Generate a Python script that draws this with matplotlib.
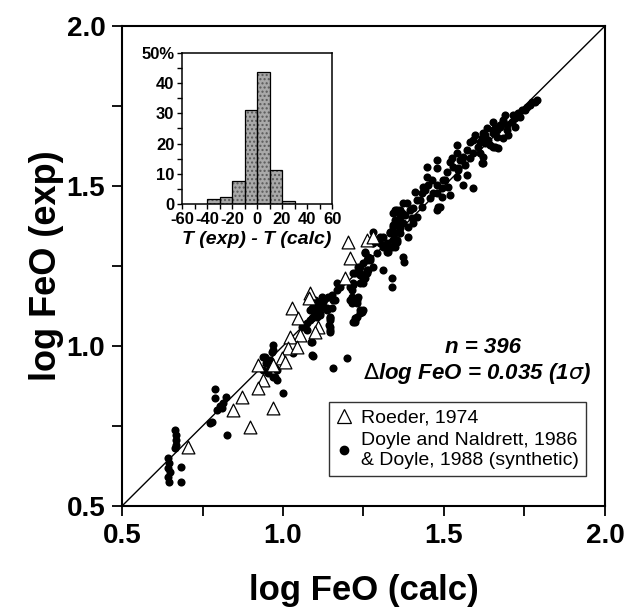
import matplotlib
matplotlib.use("Agg")
import matplotlib.pyplot as plt
from matplotlib.lines import Line2D
from matplotlib.ticker import MultipleLocator

plt.rcParams['font.family'] = ['Liberation Sans', 'DejaVu Sans']

# Roeder, 1974 (open triangles)
roeder_x = [1.202, 1.261, 1.280, 1.208, 1.193, 1.084, 1.081, 1.028, 1.047, 1.109,
            1.099, 1.053, 1.022, 1.016, 1.043, 0.997, 1.006, 0.922, 0.969, 0.938,
            0.922, 0.873, 0.845, 0.969, 0.898, 0.705]
roeder_y = [1.325, 1.331, 1.341, 1.275, 1.213, 1.166, 1.150, 1.119, 1.088, 1.059,
            1.044, 1.034, 1.028, 0.994, 0.997, 0.963, 0.950, 0.941, 0.941, 0.894,
            0.869, 0.841, 0.800, 0.806, 0.747, 0.684]

# Doyle and Naldrett, 1986 & Doyle, 1988 (filled dots)
doyle_x = [0.665, 0.668, 0.668, 0.668, 0.665, 0.643, 0.646, 0.643, 0.649, 0.643,
           0.646, 0.683, 0.683, 0.773, 0.826, 0.789, 0.789, 0.795, 0.804, 0.814,
           0.823, 0.811, 0.780,
           0.969, 0.969, 0.944, 0.947, 0.938, 0.953, 0.969, 0.981, 0.975, 0.960,
           1.000, 1.031, 1.087, 1.093, 1.155, 1.199, 0.966, 0.938, 0.950, 0.981,
           0.975, 0.960, 1.090,
           1.146, 1.143, 1.146, 1.217, 1.239, 1.224, 1.248, 1.208, 1.230, 1.214,
           1.217, 1.248, 1.261, 1.239, 1.177, 1.152, 1.155, 1.168, 1.115, 1.106,
           1.093, 1.075, 1.059, 1.137, 1.099, 1.124, 1.115, 1.084, 1.140, 1.090,
           1.109, 1.121, 1.137, 1.106, 1.090, 1.146, 1.146, 1.146, 1.214, 1.214,
           1.230, 1.230, 1.245, 1.224, 1.168, 1.208, 1.161, 1.152, 1.146, 1.121,
           1.109, 1.093, 1.099, 1.115, 1.084, 1.075, 1.090, 1.233, 1.239, 1.224,
           1.280, 1.292, 1.311, 1.323, 1.342, 1.342, 1.348, 1.342, 1.332, 1.270,
           1.248, 1.261, 1.239, 1.255, 1.301, 1.339, 1.323, 1.255, 1.261, 1.264,
           1.239, 1.224, 1.248, 1.311, 1.339, 1.339, 1.348, 1.348, 1.388, 1.376,
           1.373, 1.332, 1.326, 1.354, 1.348, 1.332, 1.363, 1.342, 1.357, 1.363,
           1.348, 1.363, 1.379, 1.401, 1.404, 1.394, 1.385, 1.416, 1.425, 1.410,
           1.432, 1.441, 1.450, 1.463, 1.447, 1.447, 1.478, 1.478, 1.280, 1.270,
           1.292, 1.264, 1.233, 1.255, 1.239, 1.217, 1.217, 1.311, 1.301, 1.280,
           1.373, 1.388, 1.370, 1.354, 1.416, 1.404, 1.432, 1.373, 1.363, 1.354,
           1.348,
           1.478, 1.494, 1.488, 1.478, 1.519, 1.494, 1.512, 1.503, 1.509, 1.540,
           1.559, 1.590, 1.571, 1.543, 1.528, 1.519, 1.525, 1.550, 1.565, 1.540,
           1.540, 1.559, 1.571, 1.581, 1.590, 1.612, 1.621, 1.606, 1.590, 1.596,
           1.627, 1.618, 1.621, 1.634, 1.652, 1.665, 1.674, 1.696, 1.683, 1.689,
           1.720, 1.730, 1.752, 1.767, 1.783, 1.643, 1.658, 1.668, 1.652, 1.658,
           1.581, 1.612, 1.637, 1.556, 1.543, 1.497, 1.478, 1.466, 1.435, 1.457,
           1.481, 1.789, 1.773, 1.758, 1.742, 1.736, 1.714, 1.711, 1.720, 1.683,
           1.674, 1.696, 1.699, 1.683, 1.652, 1.665, 1.627, 1.637, 1.618, 1.652,
           1.621, 1.618]
doyle_y = [0.738, 0.722, 0.706, 0.691, 0.681, 0.650, 0.634, 0.619, 0.606, 0.591,
           0.575, 0.622, 0.575, 0.759, 0.722, 0.866, 0.838, 0.800, 0.813, 0.822,
           0.841, 0.806, 0.763,
           1.003, 0.988, 0.966, 0.947, 0.925, 0.916, 0.903, 0.894, 0.931, 0.956,
           0.853, 0.978, 1.013, 0.969, 0.931, 0.963, 0.981, 0.966, 0.950, 0.925,
           0.903, 0.934, 0.972,
           1.050, 1.066, 1.081, 1.075, 1.103, 1.088, 1.113, 1.144, 1.134, 1.175,
           1.197, 1.206, 1.228, 1.228, 1.184, 1.159, 1.144, 1.175, 1.134, 1.113,
           1.091, 1.072, 1.059, 1.113, 1.144, 1.138, 1.103, 1.113, 1.153, 1.119,
           1.113, 1.122, 1.119, 1.091, 1.088, 1.088, 1.059, 1.044, 1.153, 1.134,
           1.144, 1.091, 1.106, 1.075, 1.197, 1.184, 1.144, 1.119, 1.091, 1.153,
           1.128, 1.138, 1.103, 1.097, 1.081, 1.050, 1.013, 1.153, 1.113, 1.081,
           1.356, 1.331, 1.309, 1.322, 1.331, 1.416, 1.394, 1.372, 1.353, 1.275,
           1.259, 1.238, 1.247, 1.291, 1.341, 1.309, 1.294, 1.294, 1.269, 1.238,
           1.222, 1.228, 1.197, 1.238, 1.213, 1.184, 1.425, 1.384, 1.341, 1.263,
           1.278, 1.309, 1.294, 1.325, 1.353, 1.356, 1.369, 1.378, 1.388, 1.403,
           1.419, 1.425, 1.409, 1.400, 1.384, 1.425, 1.447, 1.456, 1.456, 1.481,
           1.478, 1.488, 1.503, 1.519, 1.528, 1.559, 1.556, 1.581, 1.247, 1.269,
           1.291, 1.278, 1.247, 1.213, 1.197, 1.228, 1.191, 1.341, 1.322, 1.322,
           1.384, 1.372, 1.416, 1.425, 1.403, 1.431, 1.434, 1.447, 1.353, 1.331,
           1.309,
           1.478, 1.466, 1.434, 1.425, 1.472, 1.494, 1.497, 1.519, 1.544, 1.528,
           1.503, 1.494, 1.534, 1.550, 1.559, 1.575, 1.588, 1.581, 1.566, 1.603,
           1.628, 1.591, 1.613, 1.588, 1.603, 1.603, 1.572, 1.622, 1.644, 1.659,
           1.634, 1.650, 1.666, 1.681, 1.666, 1.675, 1.691, 1.691, 1.706, 1.722,
           1.713, 1.728, 1.738, 1.753, 1.763, 1.628, 1.622, 1.619, 1.700, 1.681,
           1.638, 1.638, 1.634, 1.581, 1.556, 1.519, 1.503, 1.478, 1.497, 1.463,
           1.434, 1.769, 1.763, 1.747, 1.738, 1.716, 1.722, 1.700, 1.684, 1.700,
           1.684, 1.675, 1.659, 1.650, 1.675, 1.653, 1.659, 1.644, 1.644, 1.622,
           1.591, 1.572]

# inset histogram: T(exp) - T(calc), percent per 10-degree bin
bin_left = [-40, -30, -20, -10, 0, 10, 20]
bin_pct = [1.7, 2.2, 7.7, 31.2, 43.7, 11.1, 1.1]

fig = plt.figure(figsize=(6.28, 6.10), dpi=100)
ax = fig.add_axes([0.1943, 0.1705, 0.769, 0.7869])

ax.plot([0.5, 2.0], [0.5, 2.0], color='black', lw=1.0, zorder=1)
ax.scatter(doyle_x, doyle_y, s=34, color='black', lw=0, zorder=2)
ax.scatter(roeder_x, roeder_y, s=85, marker='^', facecolor='white',
           edgecolor='black', lw=0.9, zorder=3)

ax.set_xlim(0.5, 2.0)
ax.set_ylim(0.5, 2.0)
for a in (ax.xaxis, ax.yaxis):
    a.set_major_locator(MultipleLocator(0.5))
    a.set_minor_locator(MultipleLocator(0.25))
ax.xaxis.set_major_formatter(lambda v, p: f"{v:.1f}")
ax.yaxis.set_major_formatter(lambda v, p: f"{v:.1f}")
ax.tick_params(which='both', direction='out', length=7, width=1.3)
ax.tick_params(which='major', labelsize=20, pad=5)
for lab in ax.get_xticklabels() + ax.get_yticklabels():
    lab.set_fontweight('bold')
for sp in ax.spines.values():
    sp.set_linewidth(1.5)

ax.set_xlabel('log FeO (calc)', fontsize=25, fontweight='bold', labelpad=18)
ax.set_ylabel('log FeO (exp)', fontsize=26, fontweight='bold', labelpad=2)

ax.text(0.748, 0.331, 'n = 396', transform=ax.transAxes, ha='center',
        va='center', fontsize=16, fontweight='bold', style='italic')
ax.text(0.735, 0.277, r'$\Delta$' + 'log FeO = 0.035 (1' + r'$\sigma$' + ')',
        transform=ax.transAxes, ha='center', va='center', fontsize=16,
        fontweight='bold', style='italic')

handles = [Line2D([], [], ls='none', marker='^', ms=9.5, mfc='white',
                  mec='black', mew=0.9),
           Line2D([], [], ls='none', marker='o', ms=6, mfc='black',
                  mec='black')]
labels = ['Roeder, 1974', 'Doyle and Naldrett, 1986\n& Doyle, 1988 (synthetic)']
leg = ax.legend(handles, labels, loc='upper left',
                bbox_to_anchor=(0.4286, 0.2167), borderaxespad=0,
                fontsize=14, frameon=True, fancybox=False, handlelength=0.8,
                handletextpad=0.5, borderpad=0.35, labelspacing=0.3)
leg.get_frame().set_edgecolor('black')
leg.get_frame().set_linewidth(1.0)

# inset
ins = fig.add_axes([0.2898, 0.6656, 0.239, 0.2475])
ins.bar(bin_left, bin_pct, width=10, align='edge', color='#a9a9a9',
        edgecolor='#5a5a5a', hatch='....', lw=0)
ins.bar(bin_left, bin_pct, width=10, align='edge', fill=False,
        edgecolor='black', lw=0.9)
ins.set_xlim(-60, 60)
ins.set_ylim(0, 50)
ins.xaxis.set_major_locator(MultipleLocator(20))
ins.xaxis.set_minor_locator(MultipleLocator(10))
ins.yaxis.set_major_locator(MultipleLocator(10))
ins.yaxis.set_minor_locator(MultipleLocator(5))
ins.xaxis.set_major_formatter(lambda v, p: f"{v:.0f}")
ins.yaxis.set_major_formatter(lambda v, p: '50%' if v == 50 else f"{v:.0f}")
ins.tick_params(which='both', direction='out', length=3.5, width=1.0)
ins.tick_params(which='major', labelsize=12, pad=2)
for lab in ins.get_xticklabels() + ins.get_yticklabels():
    lab.set_fontweight('bold')
for sp in ins.spines.values():
    sp.set_linewidth(1.1)
ins.set_xlabel('T (exp) - T (calc)', fontsize=14, fontweight='bold',
               style='italic', labelpad=3)

fig.savefig('out.png', dpi=100)
